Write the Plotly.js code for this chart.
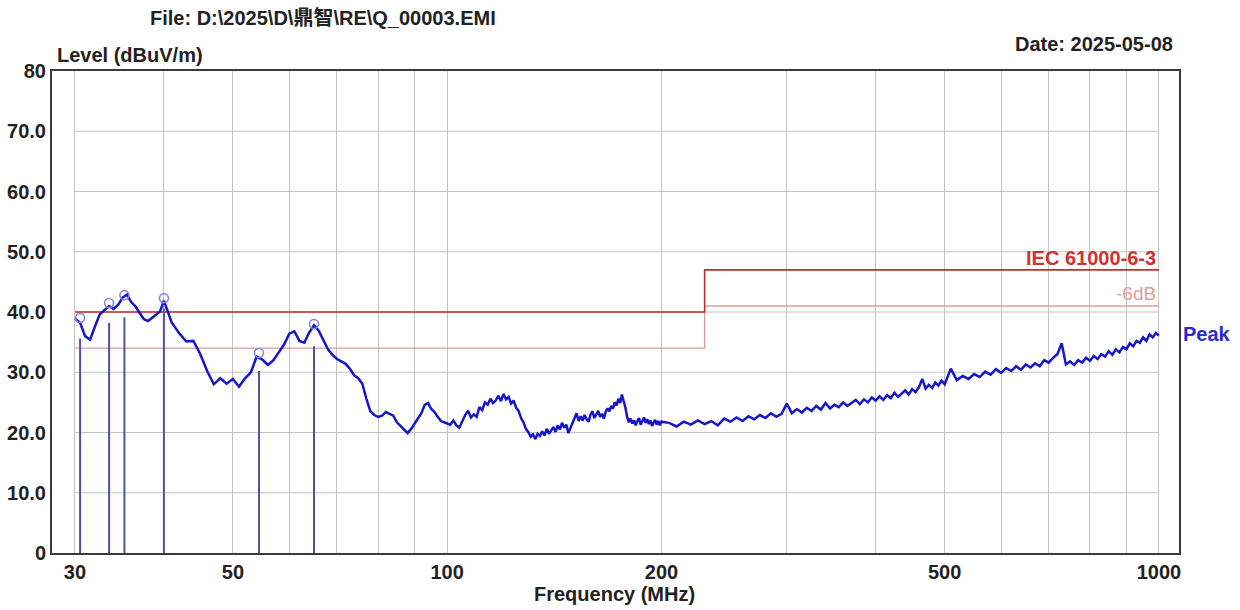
<!DOCTYPE html>
<html><head><meta charset="utf-8">
<script src="https://cdn.plot.ly/plotly-3.0.1.min.js"></script>
<style>html,body{margin:0;padding:0;background:#fff}#chart{width:1240px;height:610px}</style>
</head><body><div id="chart"></div>
<script>
// ---- Peak scan (MHz, dBuV/m) ----
const freqA = [30,30.5,31,31.5,32,32.5,33,33.5,34,34.5,35,35.5,36,36.5,37,37.5,38,38.5,39,39.5,40,
  41,42,43,44,45,46,47,48,49,50,51,52,53,54,55,56,57,58,59,60,61,62,63,64,65,66,67,68,69,70,
  71,72,73,74,75,76,77,78,79,80,81,82,83,84,85,86,87,88,89,90,91,92,93,94,95,96,97,98,99,100];
const levelA = [38.9,38.2,36.0,35.4,37.6,39.6,40.3,41.0,40.5,41.2,42.4,42.9,41.6,40.9,39.8,38.8,38.5,39.0,39.6,40.1,41.9,
  38.3,36.5,35.1,35.2,33.0,30.2,28.0,29.0,28.1,28.9,27.6,29.0,30.0,32.6,32.1,31.2,32.0,33.3,34.6,36.4,36.8,35.2,34.9,36.6,37.8,36.9,35.4,33.8,32.9,32.2,
  31.8,31.4,30.6,29.5,29.0,28.1,25.6,23.5,22.9,22.6,22.8,23.4,23.1,22.8,21.7,21.1,20.4,19.9,20.6,21.5,22.3,23.2,24.6,24.9,23.9,23.4,22.6,21.9,21.7,21.5];
const freqB = [101,102,103,104,105,106,107,108,109,110,111,112,113,114,115,116,117,118,119,120,
  121,122,123,124,125,126,127,128,129,130,131,132,133,134,135,136,137,138,139,140,
  141,142,143,144,145,146,147,148,149,150,151,152,153,154,155,156,157,158,159,160,
  161,162,163,164,165,166,167,168,169,170,171,172,173,174,175,176,177,178,179,180,
  181,182,183,184,185,186,187,188,189,190,191,192,193,194,195,196,197,198,199,200];
const levelB = [21.3,22.0,21.2,20.8,21.9,22.9,23.6,22.5,23.0,22.6,24.2,23.7,25.0,24.6,25.6,24.9,25.3,26.1,25.2,26.4,
  25.5,25.9,24.8,25.3,24.1,23.6,22.4,21.7,20.6,20.1,19.3,19.7,18.9,19.8,19.4,20.2,19.5,20.6,19.8,20.4,
  20.9,20.1,21.2,20.5,21.6,20.8,21.3,19.9,20.7,21.8,22.6,23.2,21.9,22.7,22.0,22.9,22.2,21.8,23.0,23.5,
  22.4,22.9,23.6,22.6,23.1,22.3,23.4,24.0,23.5,24.4,24.0,25.0,24.5,25.6,24.9,26.3,25.4,24.1,22.6,21.7,
  22.3,21.5,22.0,21.2,21.9,22.4,21.3,21.8,22.5,21.6,22.2,21.4,22.0,21.1,21.7,22.1,21.3,21.9,21.2,21.8];
const freqC = [205,210,215,220,225,230,235,240,245,250,255,260,265,270,275,280,285,290,295,300,
  305,310,315,320,325,330,335,340,345,350,355,360,365,370,375,380,385,390,395,400,
  405,410,415,420,425,430,435,440,445,450,455,460,465,470,475,480,485,490,495,500,
  510,520,530,540,550,560,570,580,590,600,610,620,630,640,650,660,670,680,690,700,
  710,720,730,740,750,760,770,780,790,800,810,820,830,840,850,860,870,880,890,900,
  910,920,930,940,950,960,970,980,990,1000];
const levelC = [21.6,21.0,21.8,21.3,22.0,21.4,21.9,21.2,22.3,21.8,22.5,21.9,22.7,22.2,22.9,22.4,23.2,22.6,23.1,24.8,
  23.2,23.9,23.3,24.1,23.6,24.4,23.8,24.9,24.0,24.6,24.2,25.0,24.4,24.9,25.4,24.7,25.5,25.0,25.8,25.3,
  26.0,25.4,26.2,25.7,26.6,25.9,26.4,27.0,26.3,27.2,26.7,27.5,28.9,27.3,27.9,27.4,28.3,27.8,28.6,28.0,
  30.6,28.7,29.4,28.9,29.7,29.2,30.1,29.6,30.5,29.9,30.7,30.2,31.0,30.4,31.3,30.8,31.5,31.0,32.0,31.6,
  32.4,33.0,34.8,31.3,31.8,31.2,32.0,31.6,32.4,31.9,32.7,32.2,33.0,32.6,33.5,32.9,33.8,33.3,34.2,33.8,
  34.8,34.3,35.2,34.9,35.8,35.2,36.3,35.8,36.5,36.1];

// ---- QP measurement bars and markers ----
const qpFreq = [30.5, 33.5, 35.2, 40.0, 54.4, 65.0];
const qpLevel = [35.6, 38.2, 39.1, 40.6, 30.2, 34.3];
const markLevel = [39.0, 41.5, 42.8, 42.3, 33.2, 38.0];

// ---- Limit lines ----
const limitFreq = [30, 230, 230, 1000];
const limitLevel = [40, 40, 47, 47];
const marginLevel = [34, 34, 41, 41];

// ---- Axis ticks ----
const xTickVals = [30,40,50,60,70,80,90,100,200,300,400,500,600,700,800,900,1000];
const xTickText = ['30','','50','','','','','100','200','','','500','','','','','1000'];
const yTickVals = [0,10,20,30,40,50,60,70,80];
const yTickText = ['0','10.0','20.0','30.0','40.0','50.0','60.0','70.0','80'];

const peakFreq = freqA.concat(freqB, freqC);
const peakLevel = levelA.concat(levelB, levelC);

const stemX = [], stemY = [];
qpFreq.forEach((f, i) => { stemX.push(f, f, null); stemY.push(0, qpLevel[i], null); });

const r0 = Math.log10(27.85), r1 = Math.log10(1067);
const fx = v => (Math.log10(v) - r0) / (r1 - r0);

const FONT = 'Liberation Sans, Arial, Noto Sans CJK SC, sans-serif';

const traces = [
  {x: limitFreq, y: marginLevel, mode: 'lines', line: {color: '#e39a9a', width: 1.3}, hoverinfo: 'skip'},
  {x: limitFreq, y: limitLevel, mode: 'lines', line: {color: '#c92c2c', width: 1.6}, hoverinfo: 'skip'},
  {x: stemX, y: stemY, mode: 'lines', line: {color: '#5050a4', width: 2}, hoverinfo: 'skip'},
  {x: peakFreq, y: peakLevel, mode: 'lines', line: {color: '#1616c8', width: 2.5}},
  {x: qpFreq, y: markLevel, mode: 'markers', marker: {symbol: 'circle-open', size: 9, color: '#8585e0', line: {width: 1.6}}}
];

const shapes = [];
[10,20,30,40,50,60,70].forEach(v => shapes.push({type: 'line', layer: 'below', xref: 'paper', yref: 'y',
  x0: fx(30), x1: fx(1000), y0: v, y1: v, line: {color: '#c4c4c4', width: 1}}));

function ann(text, px, py, xanchor, size, color, weight) {
  return {text: text, xref: 'paper', yref: 'paper', x: (px - 52) / 1127, y: (553 - py) / 482,
    xanchor: xanchor, yanchor: 'middle', showarrow: false,
    font: {family: FONT, size: size, color: color, weight: weight || 'bold'}};
}

const annotations = [
  ann('File: D:\\2025\\D\\鼎智\\RE\\Q_00003.EMI', 323, 18, 'center', 20, '#222'),
  ann('Date: 2025-05-08', 1175, 44, 'right', 20, '#222'),
  ann('Level (dBuV/m)', 55, 55, 'left', 20, '#222'),
  ann('Frequency (MHz)', 614, 594, 'center', 20, '#222'),
  ann('IEC 61000-6-3', 1158, 258, 'right', 20, '#d03232'),
  ann('-6dB', 1158, 293, 'right', 19, '#e49a9a', 'normal'),
  ann('Peak', 1181, 334, 'left', 20, '#2a2ad0')
];

const layout = {
  width: 1240, height: 610,
  margin: {l: 52, r: 61, t: 71, b: 57},
  paper_bgcolor: '#fff', plot_bgcolor: '#fff',
  showlegend: false,
  font: {family: FONT, color: '#222'},
  xaxis: {type: 'log', range: [r0, r1], tickmode: 'array', tickvals: xTickVals, ticktext: xTickText,
    showgrid: true, gridcolor: '#c4c4c4', gridwidth: 1, zeroline: false,
    showline: true, mirror: true, linecolor: '#3a3a3a', linewidth: 2, ticks: '',
    tickfont: {family: FONT, size: 20, color: '#222', weight: 'bold'}},
  yaxis: {range: [0, 80], tickmode: 'array', tickvals: yTickVals, ticktext: yTickText,
    showgrid: false, zeroline: false, showline: true, mirror: true, linecolor: '#3a3a3a', linewidth: 2, ticks: '',
    tickfont: {family: FONT, size: 20, color: '#222', weight: 'bold'}},
  shapes: shapes,
  annotations: annotations
};

Plotly.newPlot('chart', traces, layout, {displayModeBar: false, staticPlot: true});
</script></body></html>
